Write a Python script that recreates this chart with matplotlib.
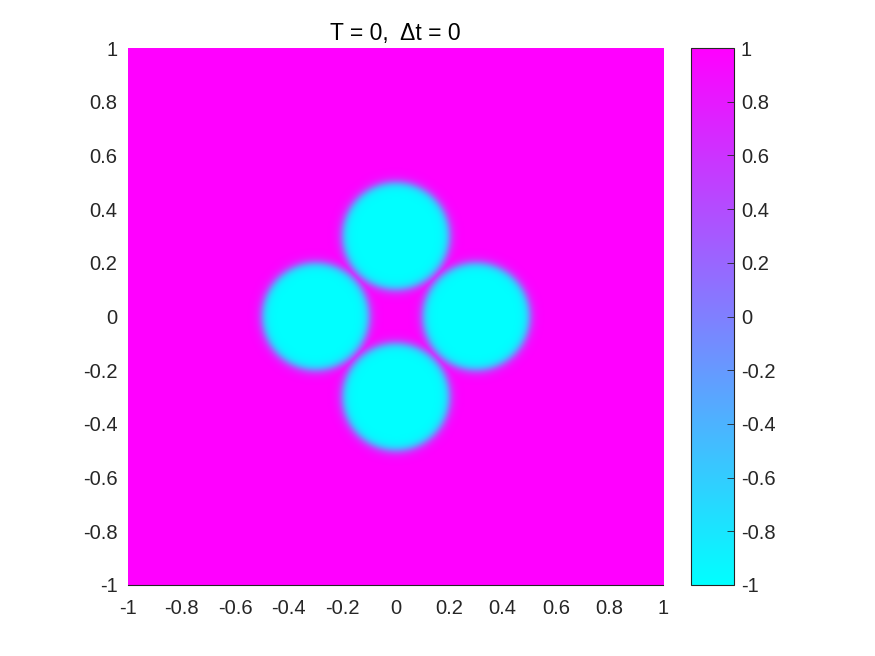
import numpy as np
import matplotlib
matplotlib.use('Agg')
import matplotlib.pyplot as plt

plt.rcParams['font.family'] = ['Liberation Sans', 'DejaVu Sans']

# ---- data: four discs of phase -1 in a +1 background ----
centers_x = [0.0, 0.3, 0.0, -0.3]
centers_y = [0.3, 0.0, -0.3, 0.0]
radius = 0.2
epsilon = 0.014
grid_n = 512
x_ticks = [-1, -0.8, -0.6, -0.4, -0.2, 0, 0.2, 0.4, 0.6, 0.8, 1]
y_ticks = [-1, -0.8, -0.6, -0.4, -0.2, 0, 0.2, 0.4, 0.6, 0.8, 1]
cb_ticks = [-1, -0.8, -0.6, -0.4, -0.2, 0, 0.2, 0.4, 0.6, 0.8, 1]
title_text = 'T = 0,  \u0394t = 0'

xs = np.linspace(-1, 1, grid_n)
X, Y = np.meshgrid(xs, xs)
u = np.ones_like(X)
for cx, cy in zip(centers_x, centers_y):
    d = np.sqrt((X - cx) ** 2 + (Y - cy) ** 2)
    u = np.minimum(u, np.tanh((d - radius) / (np.sqrt(2) * epsilon)))

fig = plt.figure(figsize=(8.75, 6.56), dpi=100)
ax = fig.add_axes([128 / 875, 71 / 656, 535 / 875, 537 / 656])
im = ax.imshow(u, extent=[-1, 1, -1, 1], origin='lower', cmap='cool',
               vmin=-1, vmax=1, aspect='auto', interpolation='bilinear')
ax.set_xticks(x_ticks)
ax.set_yticks(y_ticks)
ax.set_xticklabels([f'{t:g}' for t in x_ticks])
ax.set_yticklabels([f'{t:g}' for t in y_ticks])
ax.tick_params(labelsize=14.5, colors='#262626', length=0)
ax.tick_params(axis='x', pad=10)
ax.tick_params(axis='y', pad=7.5)
for side in ['top', 'right', 'left']:
    ax.spines[side].set_visible(False)
ax.spines['bottom'].set_color('#262626')
ax.spines['bottom'].set_linewidth(0.8)
ax.set_title(title_text, fontsize=16.5, color='#000000', pad=6)

cax = fig.add_axes([691 / 875, 71 / 656, 43 / 875, 537 / 656])
cb = fig.colorbar(im, cax=cax, ticks=cb_ticks)
cb.ax.set_yticklabels([f'{t:g}' for t in cb_ticks])
cb.ax.tick_params(labelsize=14.5, colors='#262626', direction='in', length=5,
                  width=0.6, pad=5)
cb.outline.set_edgecolor('#262626')
cb.outline.set_linewidth(0.8)

fig.savefig('out.png', dpi=100)
